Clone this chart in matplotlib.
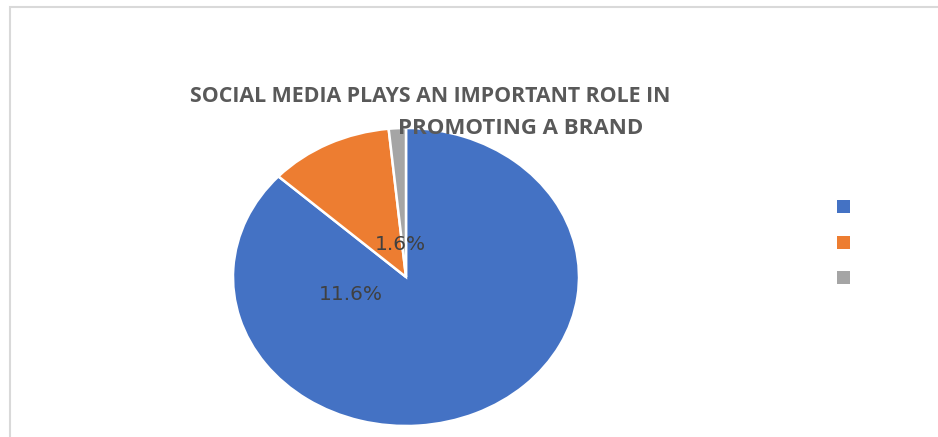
import matplotlib
matplotlib.use("Agg")
import matplotlib.pyplot as plt
from matplotlib.patches import Rectangle, Patch

# share of respondents per answer
answers = ["Agree", "Neutral", "Disagree"]
shares = [86.8, 11.6, 1.6]
colors = ["#4472C4", "#ED7D31", "#A5A5A5"]
title_lines = ["SOCIAL MEDIA PLAYS AN IMPORTANT ROLE IN", "PROMOTING A BRAND"]

fig = plt.figure(figsize=(9.38, 4.37), dpi=100)

# light chart border
fig.patches.append(Rectangle((9.5 / 938, -0.1), 1.2, 1.1 - 7.5 / 437,
                             transform=fig.transFigure, fill=False,
                             edgecolor="#D9D9D9", linewidth=1.5))

ax = fig.add_axes([233 / 938, 11 / 437, 346 / 938, 298 / 437])
wedges, _ = ax.pie(shares, colors=colors, startangle=90, counterclock=False,
                   wedgeprops=dict(edgecolor="white", linewidth=1.8))
ax.set_aspect("auto")
ax.set_xlim(-1, 1)
ax.set_ylim(-1, 1)

# percentage labels (the largest slice has none)
label_pos = {1: (-0.32, -0.12), 2: (-0.035, 0.215)}
for i, (x, y) in label_pos.items():
    ax.text(x, y, f"{shares[i]}%", ha="center", va="center",
            fontsize=14.5, color="#404040")

fig.text(190 / 938, 1 - 97 / 437, title_lines[0], ha="left", va="center",
         fontsize=15.4, fontweight="bold", color="#595959", family="Open Sans")
fig.text(398 / 938, 1 - 128 / 437, title_lines[1], ha="left", va="center",
         fontsize=16, fontweight="bold", color="#595959", family="Open Sans")

handles = [Patch(facecolor=c) for c in colors]
fig.legend(handles, [" "] * 3, loc="center left",
           bbox_to_anchor=(822 / 938, 1 - 243 / 437), frameon=False,
           handlelength=0.8, handleheight=0.8, labelspacing=1.05, fontsize=12)

fig.savefig("out.png", dpi=100)
